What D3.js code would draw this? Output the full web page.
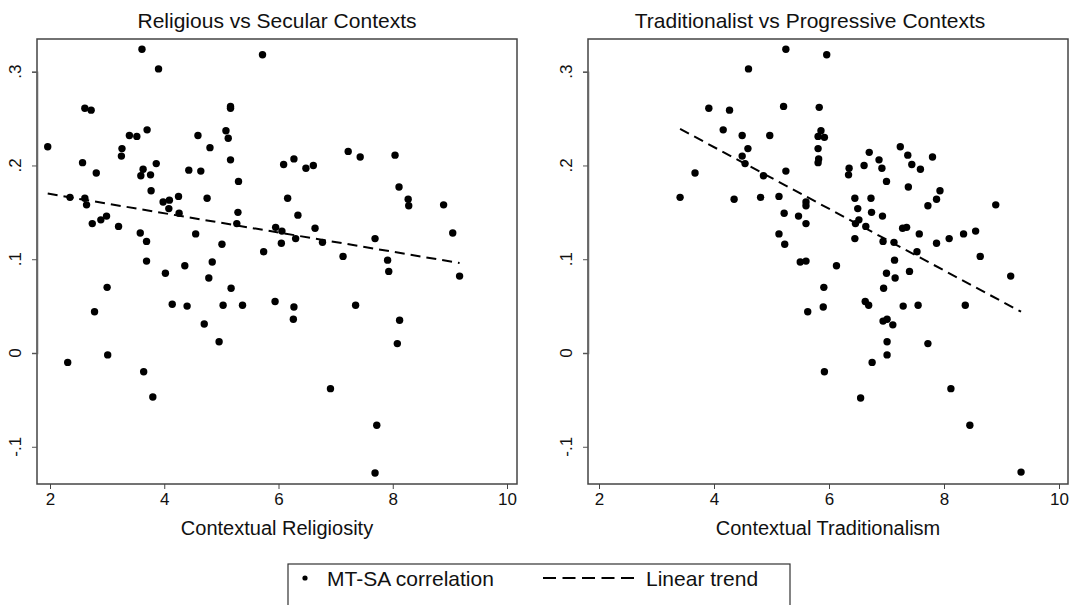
<!DOCTYPE html>
<html>
<head>
<meta charset="utf-8">
<script src="https://cdn.jsdelivr.net/npm/d3@7"></script>
<style>
  body { margin: 0; background: #fff; }
  text { font-family: "Liberation Sans", Arial, sans-serif; fill: #111; }
</style>
</head>
<body>
<svg width="1070" height="605"></svg>
<script>
// contextual religiosity (x) and MT-SA correlation (y)
const religX = [1.96,2.31,2.35,2.57,2.61,2.61,2.64,2.72,2.74,2.78,2.81,2.89,2.99,3.00,3.01,3.20,3.25,3.26,3.39,3.52,
  3.58,3.59,3.61,3.63,3.64,3.69,3.69,3.70,3.76,3.77,3.80,3.86,3.90,3.98,4.02,4.08,4.09,4.14,4.25,4.26,
  4.36,4.40,4.43,4.55,4.59,4.64,4.70,4.75,4.78,4.80,4.84,4.96,5.01,5.03,5.08,5.12,5.16,5.16,5.16,5.17,
  5.27,5.29,5.30,5.37,5.72,5.74,5.94,5.95,6.05,6.06,6.09,6.16,6.26,6.27,6.27,6.30,6.34,6.48,6.61,6.64,
  6.77,6.91,7.13,7.22,7.35,7.43,7.69,7.69,7.72,7.91,7.93,8.04,8.08,8.11,8.12,8.27,8.28,8.89,9.05,9.17];
const religY = [0.220,-0.010,0.166,0.203,0.261,0.165,0.158,0.259,0.138,0.044,0.192,0.142,0.146,0.070,-0.002,0.135,0.210,0.218,0.232,0.231,
  0.128,0.189,0.324,0.196,-0.020,0.119,0.098,0.238,0.190,0.173,-0.047,0.202,0.303,0.161,0.085,0.154,0.163,0.052,0.167,0.149,
  0.093,0.050,0.195,0.127,0.232,0.194,0.031,0.165,0.080,0.219,0.097,0.012,0.116,0.051,0.237,0.229,0.263,0.261,0.206,0.069,
  0.138,0.150,0.183,0.051,0.318,0.108,0.055,0.134,0.117,0.130,0.201,0.165,0.036,0.207,0.049,0.122,0.147,0.197,0.200,0.133,
  0.118,-0.038,0.103,0.215,0.051,0.209,0.122,-0.128,-0.077,0.099,0.087,0.211,0.010,0.177,0.035,0.164,0.157,0.158,0.128,0.082];

// contextual traditionalism (x) and MT-SA correlation (y)
const tradX = [3.41,3.67,3.91,4.16,4.27,4.35,4.49,4.49,4.54,4.59,4.60,4.81,4.86,4.97,5.13,5.13,5.21,5.22,5.23,5.25,
  5.25,5.47,5.50,5.60,5.60,5.60,5.60,5.63,5.81,5.81,5.81,5.82,5.83,5.86,5.90,5.91,5.92,5.92,5.96,6.13,
  6.34,6.35,6.45,6.45,6.46,6.50,6.52,6.55,6.61,6.63,6.64,6.69,6.70,6.73,6.74,6.75,6.87,6.92,6.93,6.94,
  6.94,6.95,7.00,7.00,7.01,7.01,7.01,7.11,7.13,7.14,7.15,7.24,7.28,7.29,7.35,7.37,7.38,7.40,7.44,7.53,
  7.55,7.57,7.59,7.72,7.72,7.80,7.87,7.87,7.93,8.09,8.12,8.34,8.37,8.45,8.55,8.63,8.90,9.16,9.34];
const tradY = [0.166,0.192,0.261,0.238,0.259,0.164,0.232,0.210,0.202,0.218,0.303,0.166,0.189,0.232,0.167,0.127,0.263,0.149,0.116,0.324,
  0.194,0.146,0.097,0.161,0.157,0.138,0.098,0.044,0.231,0.218,0.203,0.207,0.262,0.237,0.049,0.070,0.230,-0.020,0.318,0.093,
  0.190,0.197,0.165,0.122,0.138,0.154,0.142,-0.048,0.200,0.055,0.135,0.051,0.214,0.165,0.150,-0.010,0.206,0.197,0.146,0.119,
  0.034,0.069,0.183,0.085,0.036,0.012,-0.002,0.030,0.118,0.099,0.080,0.220,0.133,0.050,0.134,0.211,0.177,0.087,0.201,0.108,
  0.051,0.127,0.196,0.157,0.010,0.209,0.164,0.117,0.173,0.122,-0.038,0.127,0.051,-0.077,0.130,0.103,0.158,0.082,-0.127];

// linear fit end points
const religTrend = [[1.96, 0.170], [9.17, 0.096]];
const tradTrend = [[3.41, 0.239], [9.34, 0.044]];

const xTicks = [2, 4, 6, 8, 10];
const yTicks = [-0.1, 0, 0.1, 0.2, 0.3];

const svg = d3.select('svg');

const y = d3.scaleLinear().domain([0, 0.3]).range([353, 71.7]);
const plotTop = 39, plotBottom = 484;

const yFmt = d => d === 0 ? '0' : (d < 0 ? '-' : '') + '.' + Math.round(Math.abs(d) * 10);

function panel(opts) {
    const x = d3.scaleLinear().domain([2, 10]).range(opts.range);
    const g = svg.append('g');

    // plot frame
    g.append('rect')
        .attr('x', opts.left).attr('y', plotTop)
        .attr('width', opts.right - opts.left).attr('height', plotBottom - plotTop)
        .attr('fill', 'none').attr('stroke', '#444').attr('stroke-width', 1.5);

    // x axis
    const xa = g.append('g')
        .attr('transform', `translate(0,${plotBottom})`)
        .call(d3.axisBottom(x).tickValues(xTicks).tickSize(5).tickPadding(4).tickFormat(d3.format('d')));
    xa.select('.domain').remove();
    xa.selectAll('line').attr('stroke', '#444');
    xa.selectAll('text').attr('font-size', 17).attr('fill', '#111')
        .attr('font-family', '"Liberation Sans", Arial, sans-serif');

    // y axis, labels turned sideways
    const ya = g.append('g')
        .attr('transform', `translate(${opts.left},0)`)
        .call(d3.axisLeft(y).tickValues(yTicks).tickSize(5).tickFormat(''));
    ya.select('.domain').attr('stroke', '#666').attr('stroke-width', 1.5);
    ya.selectAll('line').attr('stroke', '#555');

    g.selectAll('.ylab')
        .data(yTicks)
        .enter()
        .append('text')
        .attr('class', 'ylab')
        .attr('transform', d => `translate(${opts.left - 16},${y(d)}) rotate(-90)`)
        .attr('text-anchor', 'middle')
        .attr('font-size', 17)
        .text(yFmt);

    // points
    g.selectAll('circle')
        .data(opts.xs.map((v, i) => [v, opts.ys[i]]))
        .enter()
        .append('circle')
        .attr('cx', d => x(d[0]))
        .attr('cy', d => y(d[1]))
        .attr('r', 3.7)
        .attr('fill', '#000');

    // linear trend
    g.append('path')
        .attr('d', d3.line().x(d => x(d[0])).y(d => y(d[1]))(opts.trend))
        .attr('fill', 'none')
        .attr('stroke', '#000')
        .attr('stroke-width', 2)
        .attr('stroke-dasharray', '10,6');

    // titles
    g.append('text')
        .attr('x', opts.titleX).attr('y', 28)
        .attr('text-anchor', 'middle').attr('font-size', 21)
        .text(opts.title);
    g.append('text')
        .attr('x', (opts.left + opts.right) / 2).attr('y', 535)
        .attr('text-anchor', 'middle').attr('font-size', 20)
        .text(opts.xTitle);
}

panel({
    left: 37, right: 517, range: [50, 507],
    xs: religX, ys: religY, trend: religTrend,
    title: 'Religious vs Secular Contexts', titleX: 277,
    xTitle: 'Contextual Religiosity'
});

panel({
    left: 588, right: 1068, range: [599, 1059],
    xs: tradX, ys: tradY, trend: tradTrend,
    title: 'Traditionalist vs Progressive Contexts', titleX: 810,
    xTitle: 'Contextual Traditionalism'
});

// legend
const lg = svg.append('g');
lg.append('rect')
    .attr('x', 288).attr('y', 564).attr('width', 502).attr('height', 60)
    .attr('fill', '#fff').attr('stroke', '#333').attr('stroke-width', 1.2);
lg.append('circle').attr('cx', 305).attr('cy', 578).attr('r', 2.6).attr('fill', '#000');
lg.append('text').attr('x', 327).attr('y', 586).attr('font-size', 21).text('MT-SA correlation');
lg.append('line')
    .attr('x1', 543).attr('x2', 634).attr('y1', 578).attr('y2', 578)
    .attr('stroke', '#000').attr('stroke-width', 2).attr('stroke-dasharray', '13,6.5');
lg.append('text').attr('x', 646).attr('y', 586).attr('font-size', 21).text('Linear trend');
</script>
</body>
</html>
